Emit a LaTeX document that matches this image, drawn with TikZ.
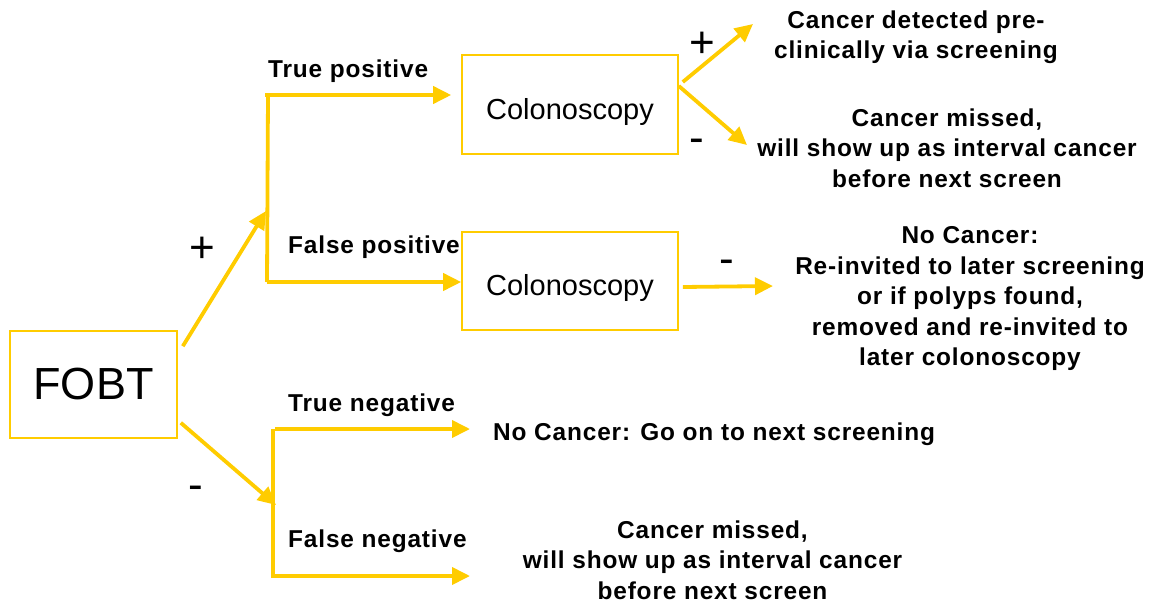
\documentclass[tikz,border=0pt]{standalone}
\usepackage{fontspec}
\setmainfont{Liberation Sans}
\newfontfamily\lblfont[LetterSpace=3.5]{Liberation Sans}
\usetikzlibrary{arrows.meta}
\definecolor{fobtyellow}{HTML}{FFCC00}

\begin{document}
\begin{tikzpicture}[x=1pt,y=-1pt,
  box/.style={draw=fobtyellow, line width=1.6pt, inner sep=0pt},
  stem/.style={draw=fobtyellow, line width=3.8pt},
  arr/.style={stem, -{Triangle[length=18pt,width=17pt]}},
  lbl/.style={font=\lblfont\bfseries\fontsize{24.4}{30.5}\selectfont, inner sep=0pt, align=center},
  sign/.style={font=\fontsize{44}{44}\selectfont, inner sep=0pt}]
\useasboundingbox (0,0) rectangle (1152,608);

\node [box, minimum width=167pt, minimum height=107pt, font=\fontsize{45}{54}\selectfont] (fobt) at (93.5,384.5) {FOBT};
\node [box, minimum width=216pt, minimum height=99pt, font=\fontsize{29}{35}\selectfont, text height=29pt, text depth=0pt] (colo1) at (570,104.5) {Colonoscopy};
\node [box, minimum width=216pt, minimum height=98pt, font=\fontsize{29}{35}\selectfont, text height=29pt, text depth=0pt] (colo2) at (570,281) {Colonoscopy};

\node [lbl, anchor=base west] (tplbl) at (268,77) {True positive};
\node [lbl, anchor=base west] (fplbl) at (288,253) {False positive};
\node [lbl, anchor=base west] (tnlbl) at (288,411) {True negative};
\node [lbl, anchor=base west] (fnlbl) at (288,547) {False negative};
\node [lbl, anchor=base west] (tnnext) at (493,440) {No Cancer: Go on to next screening};
\node [lbl, anchor=north] (detect) at (916,10.5) {Cancer detected pre-\\clinically via screening};
\node [lbl, anchor=north] (missed) at (947,108.5) {Cancer missed,\\will show up as interval cancer\\before next screen};
\node [lbl, anchor=north] (nocancer) at (970,226.3) {No Cancer:\\Re-invited to later screening\\or if polyps found,\\removed and re-invited to\\later colonoscopy};
\node [lbl, anchor=north] (fnmissed) at (712.5,520.5) {Cancer missed,\\will show up as interval cancer\\before next screen};

\node [sign, anchor=base] (fobtplus) at (202,262.6) {+};
\node [sign, anchor=base] (fobtminus) at (196,499) {-};
\node [sign, anchor=base] (coloplus) at (702,57.6) {+};
\node [sign, anchor=base] (colominus) at (697,152) {-};
\node [sign, anchor=base] (colotwominus) at (727,273) {-};

\coordinate (posfork) at (266,211);
\coordinate (tptop) at (268,95);
\coordinate (fpbot) at (267,282);
\coordinate (negfork) at (276,505);
\coordinate (tntop) at (273,429);
\coordinate (fnbot) at (273,578);
\coordinate (detecttip) at (753,24);
\coordinate (missedtip) at (747,145);
\coordinate (nocancertip) at (773,286);
\coordinate (tnnexttip) at (470,429);
\coordinate (fnmissedtip) at (470,576);

\draw [arr] ([shift={(5,16)}]fobt.north east) -- (posfork);
\draw [stem] (tptop) -- (fpbot);
\draw [arr, shorten >=10pt] ([xshift=-3pt]tptop) -- (tptop -| colo1.west);
\draw [arr] (fpbot) -- (fpbot -| colo2.west);
\draw [arr] ([shift={(3,-16)}]fobt.south east) -- (negfork);
\draw [stem] (tntop) -- (fnbot);
\draw [arr] ([xshift=2pt]tntop) -- (tnnexttip);
\draw [arr] ([shift={(2,-2)}]fnbot) -- (fnmissedtip);
\draw [arr] ([shift={(4,-22.5)}]colo1.east) -- (detecttip);
\draw [arr] ([shift={(0,-18.5)}]colo1.east) -- (missedtip);
\draw [arr] ([shift={(4,6)}]colo2.east) -- (nocancertip);
\end{tikzpicture}
\end{document}
